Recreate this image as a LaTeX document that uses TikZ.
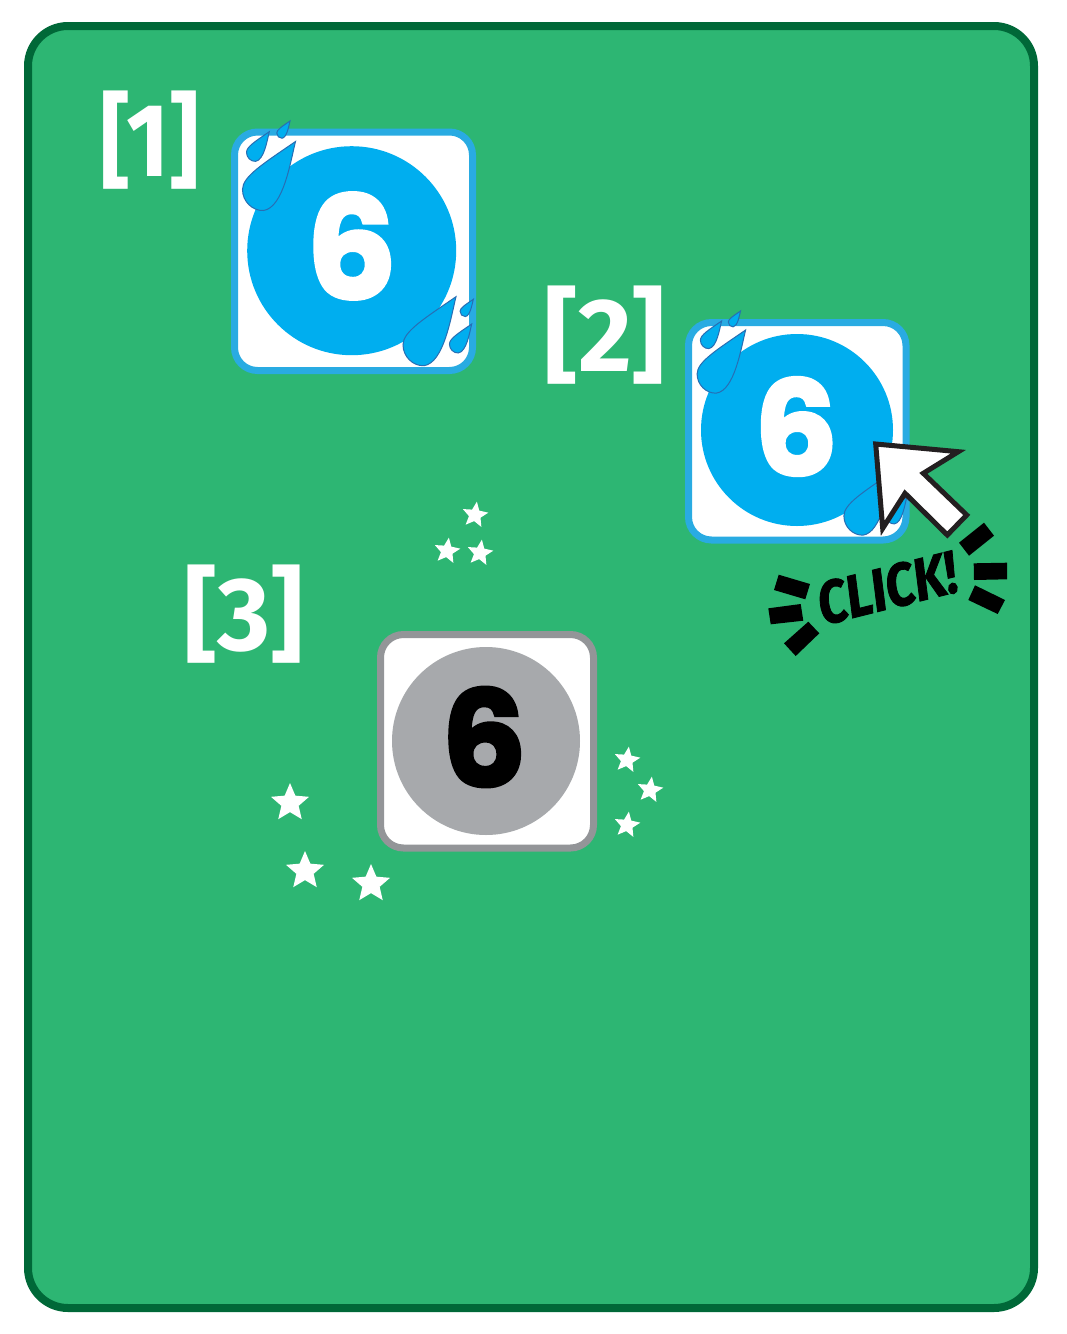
\documentclass[tikz,border=0pt]{standalone}
\usepackage{fontspec}
\usetikzlibrary{shapes}
\newfontfamily\digitfont[FakeBold=2.5]{Poppins Bold}
\newfontfamily\markfont{Fira Sans Bold}
\newfontfamily\clickfont[FakeBold=1.5]{Fira Sans Bold Italic}
\definecolor{cardgreen}{RGB}{45,182,115}
\definecolor{darkgreen}{RGB}{0,104,56}
\definecolor{tileblue}{RGB}{41,171,226}
\definecolor{discblue}{RGB}{0,174,239}
\definecolor{dropline}{RGB}{39,110,180}
\definecolor{tilegrey}{RGB}{147,149,152}
\definecolor{discgrey}{RGB}{167,169,172}
\definecolor{arrowline}{RGB}{35,31,32}
\tikzset{
  tilebox/.style={draw=tileblue,fill=white,line width=7pt,rounded corners=23pt},
  disc/.style={shape=circle,inner sep=0pt,fill=discblue},
  num/.style={inner sep=0pt,text=white,font=\digitfont\fontsize{#1}{#1}\selectfont},
  steplabel/.style={inner sep=0pt,text=white,font=\markfont\fontsize{104}{104}\selectfont},
  clicktext/.style={inner sep=0pt,text=black,rotate=#1,xscale=.85,font=\clickfont\fontsize{60}{60}\selectfont},
  tick/.style={fill=black},
  spark/.style={shape=star,star points=5,star point ratio=2.2,inner sep=0pt,fill=white,minimum size=#1},
  rain/.pic={\draw[fill=discblue,draw=dropline,line width=1pt] (0,0) .. controls (-32,22) and (-53,35) .. (-53,48)
    .. controls (-53,60) and (-43,69.5) .. (-32,69) .. controls (-12,66) and (-5,20) .. cycle;}
}
\begin{document}
\begin{tikzpicture}[x=1pt,y=-1pt]
\useasboundingbox (0,0) rectangle (1067,1334);
\draw[draw=darkgreen,fill=cardgreen,line width=8pt,rounded corners=40pt] (28,26) rectangle (1034,1308);

% tile 1
\draw[tilebox] (234.5,132) rectangle (472.5,370.5);
\node[disc,minimum size=209pt] (disc1) at (351.7,250.7) {};
\node[num=142] (six1) at (351.5,246) {6};
\pic[scale=1] at (295.5,141.5) {rain};
\pic[scale=.43] at (269.3,131.7) {rain};
\pic[scale=.25] at (290,121) {rain};
\pic[scale=1] at (456,296.7) {rain};
\pic[scale=.25] at (473.3,299.3) {rain};
\pic[scale=.42] at (471.7,324) {rain};

% tile 2
\draw[tilebox] (688.5,322.5) rectangle (906,540);
\node[disc,minimum size=192pt] (disc2) at (797,430) {};
\node[num=131] (six2) at (796,426.5) {6};
\pic[scale=.915] at (745.6,330) {rain};
\pic[scale=.4] at (721.6,321) {rain};
\pic[scale=.23] at (740.5,311) {rain};
\pic[scale=.915] at (892.4,472) {rain};
\pic[scale=.23] at (908.3,474.5) {rain};
\pic[scale=.39] at (906.8,497) {rain};
\draw[draw=arrowline,fill=white,line width=5pt,miter limit=10] (875.7,444) -- (958.3,451.7) -- (923.3,473.3) -- (966.7,515) -- (947.3,535) -- (905,493.3) -- (882.7,528.3) -- cycle;

% tile 3
\draw[tilebox,draw=tilegrey] (380.5,634.5) rectangle (593.5,848);
\node[disc,fill=discgrey,minimum size=188pt] (disc3) at (486,741) {};
\node[num=133,text=black] (six3) at (484,737) {6};

% labels
\node[steplabel,xscale=.89] (label1) at (150,140) {[1]};
\node[steplabel,xscale=1] (label2) at (605,335) {[2]};
\node[steplabel,xscale=.98] (label3) at (244,614) {[3]};

% click
\node[clicktext=14] (clickword) at (887,588) {CLICK!};
\fill[tick] (984,522.7) -- (994,535.7) -- (969,555.7) -- (959,542.7) -- cycle;
\fill[tick] (973.7,563.3) -- (1007,562.7) -- (1007,579.3) -- (974,580) -- cycle;
\fill[tick] (975,585.3) -- (1005,600) -- (997.7,614) -- (968.3,600) -- cycle;
\fill[tick] (778.7,574.7) -- (810,584) -- (805.3,599.3) -- (774,590) -- cycle;
\fill[tick] (768.3,608.3) -- (800.7,604) -- (803.3,620.7) -- (770.7,624.3) -- cycle;
\fill[tick] (808.3,621.7) -- (819.3,633.3) -- (795.7,656) -- (784,643.3) -- cycle;

% stars
\node[spark=27pt,rotate=-8] (s1) at (475,515) {};
\node[spark=27pt,rotate=-8] (s2) at (447,551) {};
\node[spark=27pt,rotate=-8] (s3) at (480,553) {};
\node[spark=27pt,rotate=-8] (s4) at (627,760) {};
\node[spark=27pt,rotate=-8] (s5) at (650,790) {};
\node[spark=27pt,rotate=-8] (s6) at (627,825) {};
\node[spark=40pt] (s7) at (290,803) {};
\node[spark=40pt] (s8) at (305,871) {};
\node[spark=40pt] (s9) at (371,884) {};
\end{tikzpicture}
\end{document}
